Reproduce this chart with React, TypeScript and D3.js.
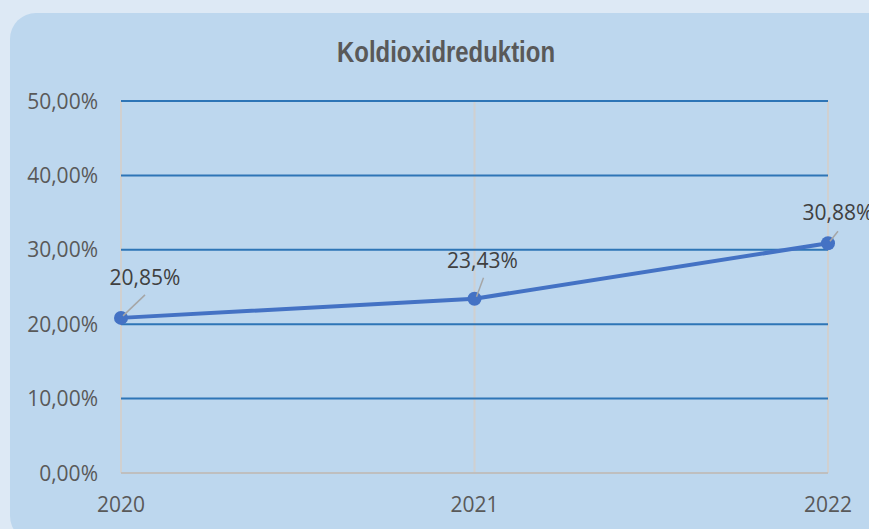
import * as d3 from 'd3';
import { type FC } from 'react';

const years: string[] = ['2020', '2021', '2022'];
const reduction: number[] = [20.85, 23.43, 30.88];
const yTicks: number[] = [0, 10, 20, 30, 40, 50];

const width = 869;
const height = 529;
const marginLeft = 121;
const marginRight = 41;
const marginTop = 101;
const marginBottom = 56;

const fmt = (v: number) => v.toFixed(2).replace('.', ',') + '%';

// label offsets relative to point: text baseline centre and leader end
const labelPos = [
  { dx: 24, dy: -33, lx: 24, ly: -23 },
  { dx: 8, dy: -31, lx: 9, ly: -21 },
  { dx: 10, dy: -23, lx: 10, ly: -12 },
];

const App: FC = () => {
  const x = d3.scalePoint<string>().domain(years).range([marginLeft, width - marginRight]);
  const y = d3.scaleLinear().domain([0, 50]).range([height - marginBottom, marginTop]);

  const line = d3
    .line<number>()
    .x((_d, i) => x(years[i]) ?? 0)
    .y((d) => y(d));

  const font = "'Open Sans', sans-serif";

  return (
    <svg
      width={width}
      height={height}
      viewBox={`0 0 ${width} ${height}`}
      style={{ position: 'absolute', left: 0, top: 0 }}
    >
      <rect x={0} y={0} width={width} height={height} fill='#dde9f5' />
      <rect x={10} y={13} width={width + 40} height={height} rx={26} fill='#bdd7ee' />
      <text
        x={446}
        y={62}
        textAnchor='middle'
        fontFamily="'Liberation Sans Narrow', 'Liberation Sans', sans-serif"
        fontWeight='bold'
        fontSize={29}
        fill='#595959'
        textLength={218}
        lengthAdjust='spacingAndGlyphs'
      >
        Koldioxidreduktion
      </text>

      {/* vertical gridlines */}
      {years.map((yr) => (
        <line
          key={yr}
          x1={x(yr)}
          x2={x(yr)}
          y1={y(50)}
          y2={y(0)}
          stroke='#d0d0d0'
          strokeWidth={2}
        />
      ))}

      {/* horizontal gridlines */}
      {yTicks
        .filter((t) => t > 0)
        .map((t) => (
          <line
            key={t}
            x1={marginLeft}
            x2={width - marginRight}
            y1={y(t)}
            y2={y(t)}
            stroke='#2e75b6'
            strokeWidth={2}
          />
        ))}
      <line
        x1={marginLeft}
        x2={width - marginRight}
        y1={y(0)}
        y2={y(0)}
        stroke='#bfbfbf'
        strokeWidth={2}
      />

      <g fontFamily={font} fontSize={21} fill='#595959'>
        {yTicks.map((t) => (
          <text key={t} x={98} y={y(t)} dy='0.36em' textAnchor='end'>
            {fmt(t)}
          </text>
        ))}
        {years.map((yr) => (
          <text key={yr} x={x(yr)} y={512} textAnchor='middle'>
            {yr}
          </text>
        ))}
      </g>

      <path
        d={line(reduction) ?? undefined}
        fill='none'
        stroke='#4472c4'
        strokeWidth={4}
        strokeLinejoin='round'
        strokeLinecap='round'
      />
      {reduction.map((d, i) => (
        <circle key={i} cx={x(years[i])} cy={y(d)} r={7} fill='#4472c4' />
      ))}

      {reduction.map((d, i) => {
        const px = x(years[i]) ?? 0;
        const py = y(d);
        const p = labelPos[i];
        return (
          <g key={i}>
            <line
              x1={px + 2}
              y1={py - 2}
              x2={px + p.lx}
              y2={py + p.ly}
              stroke='#a6a6a6'
              strokeWidth={1.5}
            />
            <text
              x={px + p.dx}
              y={py + p.dy}
              textAnchor='middle'
              fontFamily={font}
              fontSize={21}
              fill='#404040'
            >
              {fmt(d)}
            </text>
          </g>
        );
      })}
    </svg>
  );
};

export default App;
